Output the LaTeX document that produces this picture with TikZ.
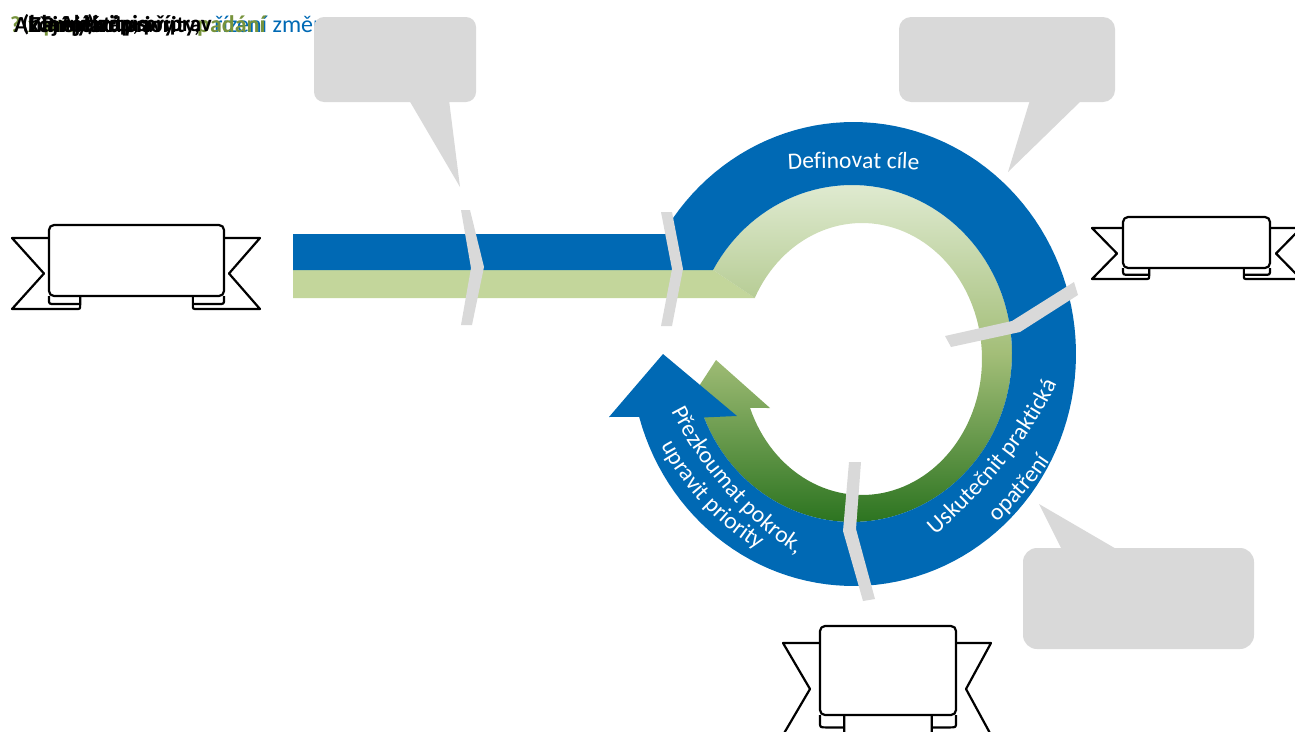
\documentclass[tikz,border=0pt]{standalone}
\usepackage{fontspec}
\setmainfont{Carlito}
\usetikzlibrary{decorations.text}
\definecolor{ringblue}{HTML}{0069B4}
\definecolor{bandgreen}{HTML}{C3D69B}
\definecolor{callgray}{HTML}{D9D9D9}
\definecolor{olive}{HTML}{77933C}
\definecolor{gtop}{HTML}{DFEAD0}
\definecolor{gmid}{HTML}{A3BE78}
\definecolor{gbot}{HTML}{2C7420}
\tikzset{
  x=1pt,y=-1pt,
  callout/.style={fill=callgray,draw=none},
  sep/.style={fill=callgray,draw=none},
  ribline/.style={draw=black,line width=2.2pt,line join=round,fill=white},
  ringtext/.style={decorate,decoration={text along path,text align=center,
     text={|\fontsize{23.5}{23.5}\selectfont\color{white}|#1}}},
  stack/.style={anchor=base west,font=\fontsize{23}{23}\selectfont\bfseries,inner sep=0pt},
}
\newcommand{\ribbon}[9]{% xa xb xc xd ya yb yc yd notch-offset
  \pgfmathsetmacro{\fw}{0.178*(#3-#2)}
  \pgfmathsetmacro{\fl}{#2+\fw}
  \pgfmathsetmacro{\fr}{#3-\fw}
  \pgfmathsetmacro{\cy}{#7+0.62*(#8-#7)}
  \pgfmathsetmacro{\ny}{(#6+#8)/2}
  \pgfmathsetmacro{\nl}{#2-#9}
  \pgfmathsetmacro{\nr}{#3+#9}
  \path[ribline] (#2,#6) -- (#1,#6) -- (\nl,\ny) -- (#1,#8) -- (\fl-4,#8) .. controls (\fl,#8) and (\fl,#8) .. (\fl,#8-4) -- (\fl,#7);
  \path[ribline] (#3,#6) -- (#4,#6) -- (\nr,\ny) -- (#4,#8) -- (\fr+4,#8) .. controls (\fr,#8) and (\fr,#8) .. (\fr,#8-4) -- (\fr,#7);
  \path[ribline,fill=none] (#2,#7) -- (#2,\cy-5) .. controls (#2,\cy) and (#2,\cy) .. (#2+6,\cy) -- (\fl,\cy);
  \path[ribline,fill=none] (#3,#7) -- (#3,\cy-5) .. controls (#3,\cy) and (#3,\cy) .. (#3-6,\cy) -- (\fr,\cy);
  \path[ribline,rounded corners=5pt] (#2,#5) rectangle (#3,#7);
}
\begin{document}
\begin{tikzpicture}
\useasboundingbox (0,0) rectangle (1295,731);
\clip (0,0) rectangle (1295,731);

% overlapped heading strings
\node[stack,text=ringblue,font=\fontsize{24}{24}\selectfont,anchor=base east] (h2) at (326,32) {řízení změn};
\node[stack,text=olive] (h1) at (10,32) {? x pro};
\node[stack,text=olive,font=\fontsize{24}{24}\selectfont\bfseries] (h3) at (197,32) {padání};
\node[stack] (h4) at (14,32) {Akční plán};
\node[stack] (h5) at (22,31) {(hlavní) zápis};
\node[stack] (h6) at (42,32) {Projekt: priority,};
\node[stack] (h7) at (60,31) {Aktivity, příprav};
\node[stack] (h8) at (30,32) {Zájmy a úpravy};

% light green band
\fill[bandgreen] (293,270) -- (713,270) -- (755,298) -- (293,298) -- cycle;

% green arrow ring
\path[top color=gtop,bottom color=gbot,middle color=gmid]
  plot[domain=209.7:517.7,samples=120] ({852+160*cos(\x)},{353.5+168.5*sin(\x)})
  -- (690,400) -- (716,360) -- (770,408)
  -- plot[domain=518.9:206.7,samples=120] ({862+120*cos(\x)},{359+136*sin(\x)})
  -- cycle;

% blue band and ring
\fill[ringblue] (293,234) -- (668,234)
  -- plot[domain=215.9:524.3,samples=120] ({853.4+222.6*cos(\x)},{354+232*sin(\x)})
  -- (609,417) -- (663,354) -- (737,416)
  -- plot[domain=517.7:209.7,samples=120] ({852+160*cos(\x)},{353.5+168.5*sin(\x)})
  -- (293,270) -- cycle;

% separators
\fill[sep] (461,210) -- (470,210) -- (484,267) -- (472,325) -- (461,325) -- (471,268) -- cycle;
\fill[sep] (661,212) -- (672,212) -- (683,269) -- (672,326) -- (661,326) -- (672,269) -- cycle;
\fill[sep] (945,336) -- (1012,321) -- (1074,282) -- (1078,295) -- (1020,332) -- (951,347) -- cycle;
\fill[sep] (849,462) -- (861,462) -- (856,529) -- (875,599) -- (863,601) -- (843,531) -- cycle;

% ring texts
\path[ringtext={Definovat cíle}] (770,171) .. controls (815,167) and (890,167) .. (937,171);
\path[ringtext={Uskutečnit praktická}] (924,545) .. controls (977,500) and (1032,442) .. (1063,370);
\path[ringtext={opatření}] (985,532) .. controls (1012,510) and (1037,482) .. (1058,448);
\path[ringtext={Přezkoumat pokrok,}] (662,392) .. controls (695,465) and (750,530) .. (815,565);
\path[ringtext={upravit priority}] (652,428) .. controls (680,488) and (718,528) .. (775,560);

% callouts
\fill[callout,rounded corners=10pt] (314,17) rectangle (476,102);
\fill[callout] (409,100) -- (460,187) -- (449,100) -- cycle;
\fill[callout,rounded corners=12pt] (899,17) rectangle (1115,102);
\fill[callout] (1030,100) -- (1008,172) -- (1082,100) -- cycle;
\fill[callout,rounded corners=14pt] (1023,548) rectangle (1254,649);
\fill[callout] (1062,550) -- (1039,504) -- (1118,550) -- cycle;

% ribbons
\ribbon{12}{49}{224}{260}{225}{238}{296}{309}{5}
\ribbon{1092}{1123}{1270}{1301}{217}{228}{268}{279}{6}
\ribbon{783}{820}{956}{991}{626}{643}{715}{735}{10}
\end{tikzpicture}
\end{document}
